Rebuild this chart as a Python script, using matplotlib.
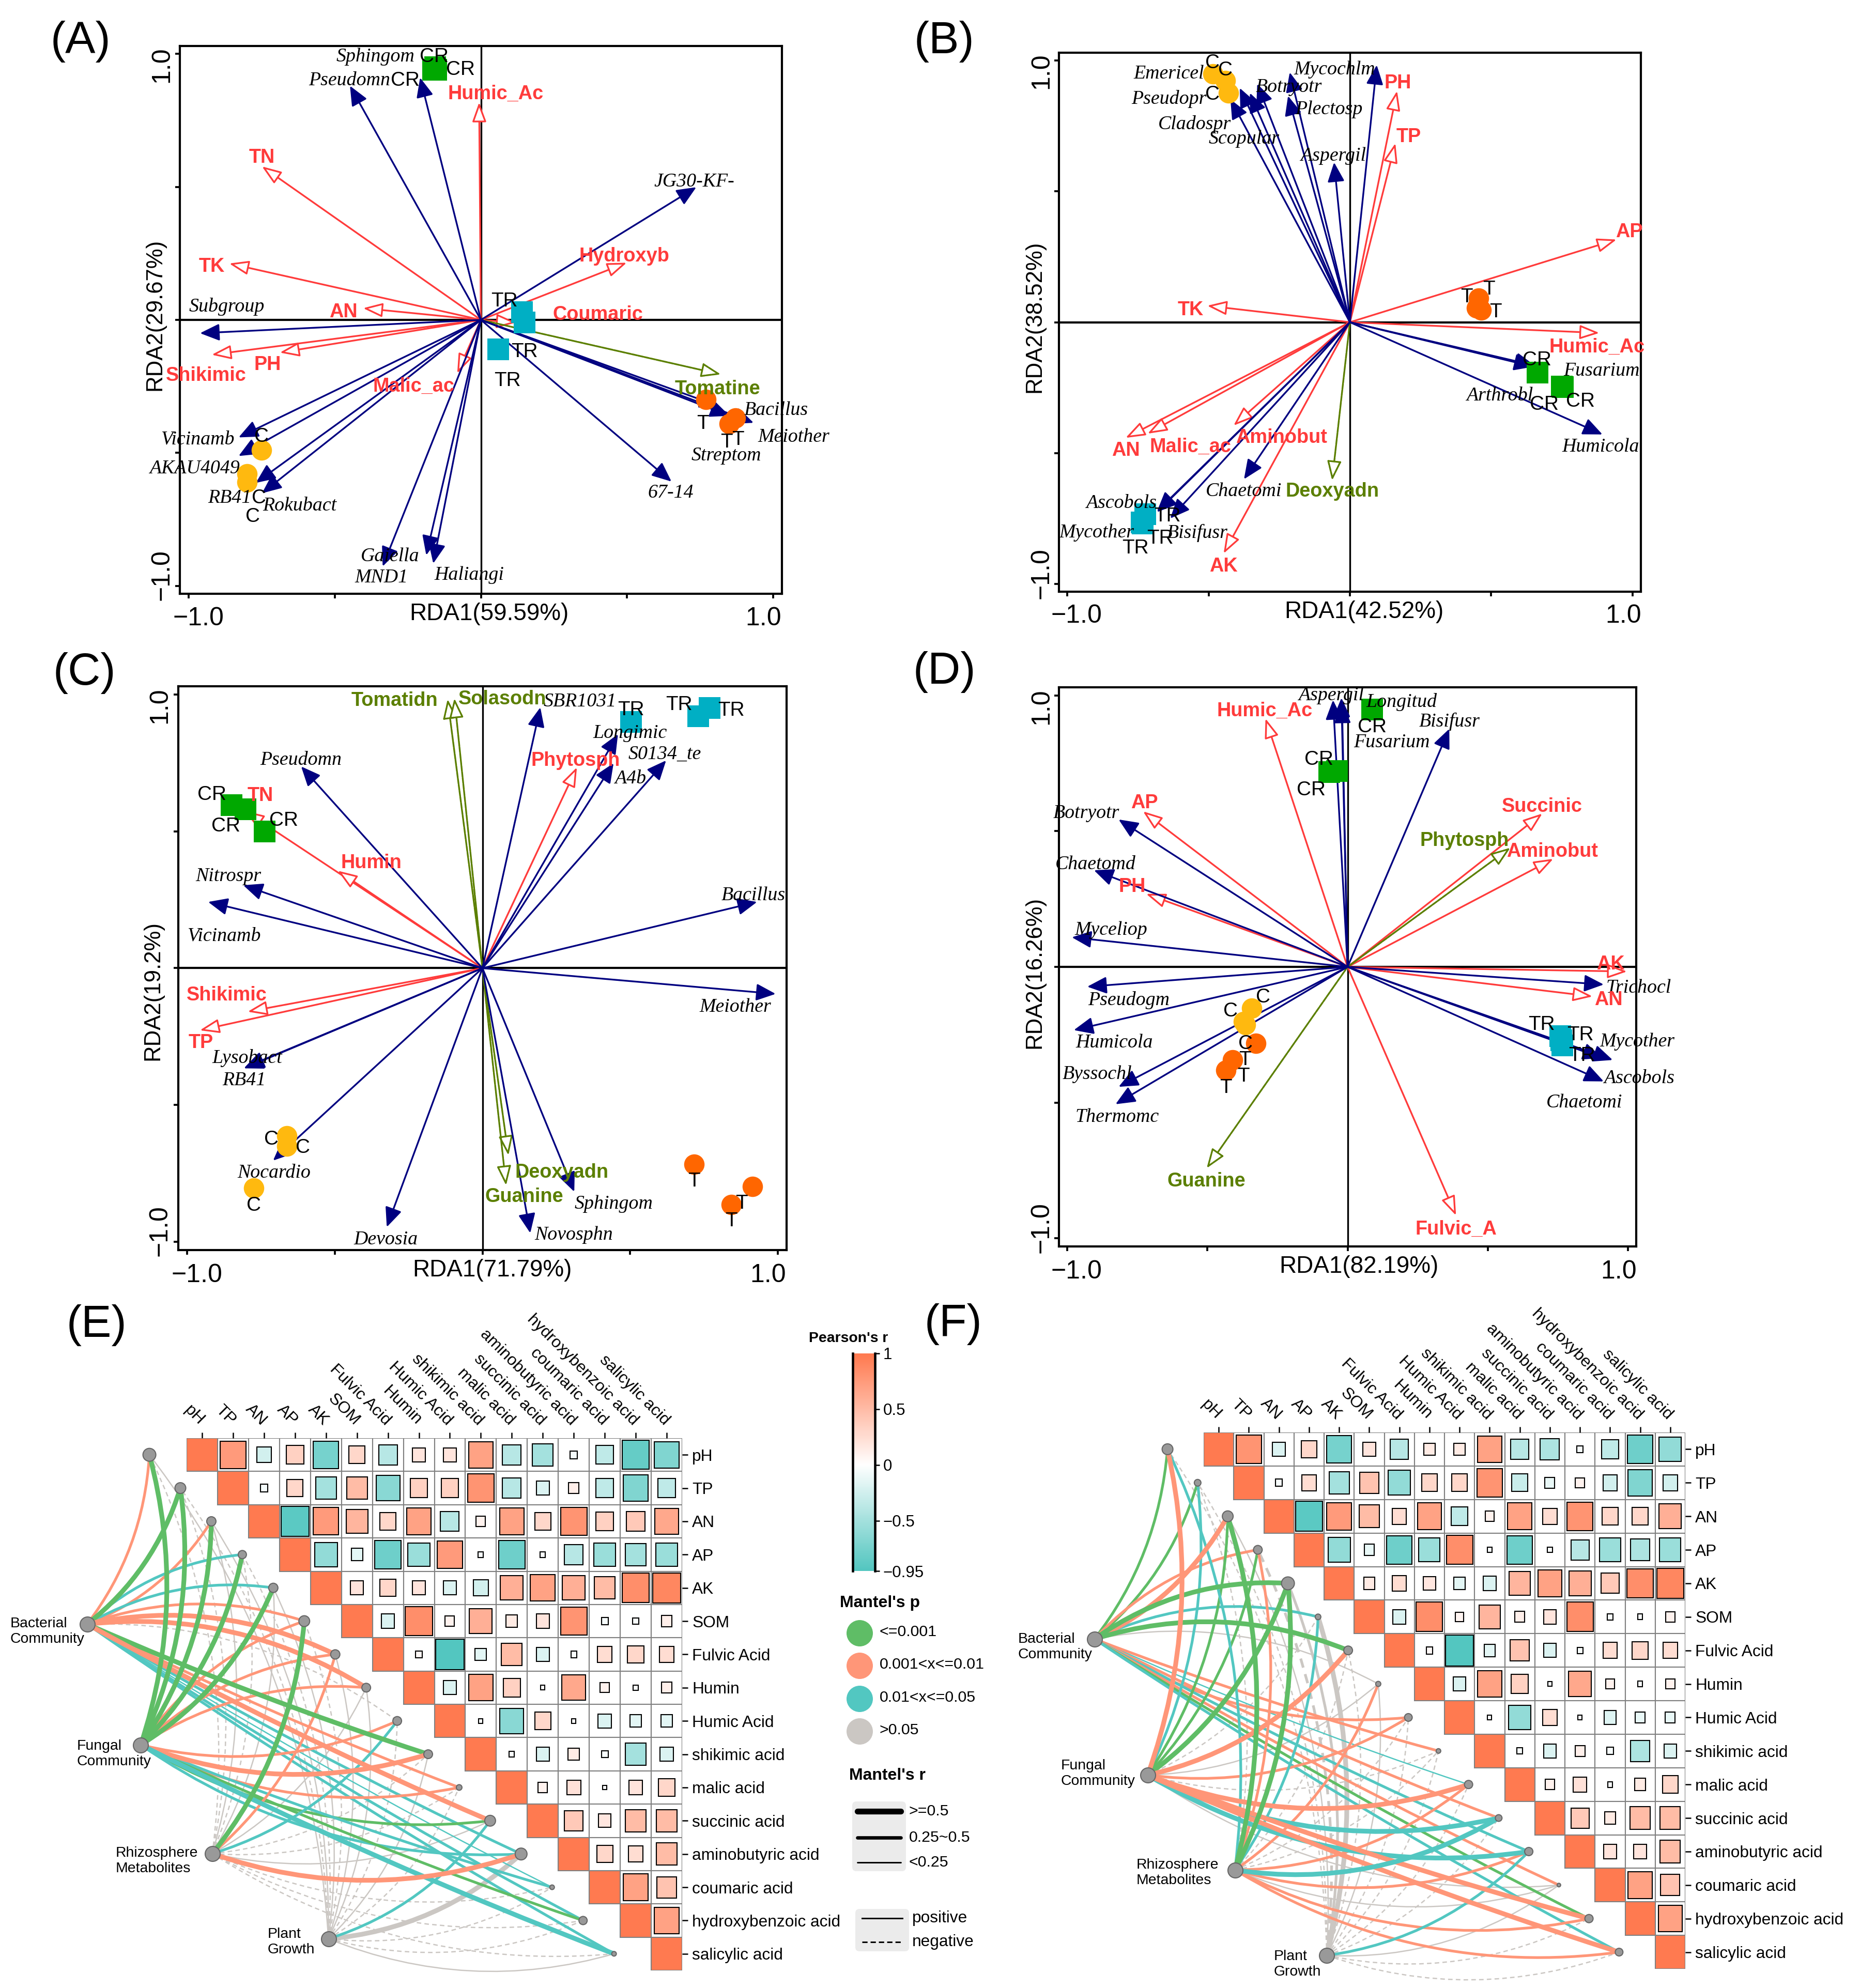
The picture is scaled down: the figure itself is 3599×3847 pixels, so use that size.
import numpy as np
import matplotlib
matplotlib.use("Agg")
import matplotlib.pyplot as plt
from matplotlib.colors import LinearSegmentedColormap, TwoSlopeNorm
from matplotlib.patches import FancyArrowPatch, FancyBboxPatch, PathPatch, Rectangle
from matplotlib.path import Path

plt.rcParams['font.family'] = ['Liberation Sans', 'DejaVu Sans']

W, H = 3599, 3847

# ---- panel A ----
a_spp_names = ["Sphingom", "Pseudomn", "JG30-KF-", "Subgroup", "Vicinamb", "AKAU4049", "RB41", "Rokubact",
               "Gaiella", "MND1", "Haliangi", "67-14", "Bacillus", "Meiother", "Streptom"]
a_spp_tips = [(-.208, .911), (-.448, .880), (.737, .499), (-.961, -.05), (-.829, -.442), (-.829, -.512),
              (-.770, -.613), (-.749, -.652), (-.336, -.927), (-.187, -.885), (-.163, -.916), (.652, -.608),
              (.815, -.325), (.933, -.387), (.851, -.361)]
a_spp_labs = [(-.36, .99), (-.45, .90), (.73, .52), (-.87, .05), (-.97, -.45), (-.98, -.56), (-.86, -.67),
              (-.62, -.70), (-.31, -.89), (-.34, -.97), (-.04, -.96), (.65, -.65), (1.01, -.34), (1.07, -.44),
              (.84, -.51)]
a_env_names = ["Humic_Ac", "TN", "TK", "Hydroxyb", "AN", "Shikimic", "PH", "Malic_ac", "Coumaric"]
a_env_tips = [(-.006, .818), (-.749, .577), (-.861, .212), (.499, .215), (-.403, .044), (-.921, -.131),
              (-.688, -.123), (-.081, -.201), (.12, -.01)]
a_env_labs = [(.05, .85), (-.75, .61), (-.92, .20), (.49, .24), (-.47, .03), (-.94, -.21), (-.73, -.17),
              (-.23, -.25), (.40, .02)]
a_met_names = ["Tomatine"]
a_met_tips = [(.821, -.205)]
a_met_labs = [(.81, -.26)]
a_cr = [(-.157, .95), (-.163, .94), (-.153, .94)]
a_tr = [(.14, .03), (.15, -.01), (.06, -.11)]
a_c = [(-.75, -.49), (-.80, -.58), (-.80, -.61)]
a_t = [(.77, -.30), (.87, -.37), (.85, -.39)]
a_cr_labs = [(-.16, .99), (-.07, .94), (-.26, .90)]
a_tr_labs = [(.08, .07), (.15, -.12), (.09, -.23)]
a_c_labs = [(-.75, -.44), (-.76, -.67), (-.78, -.74)]
a_t_labs = [(.76, -.39), (.88, -.45), (.84, -.46)]

# ---- panel B ----
b_spp_names = ["Pseudopr", "Emericel", "Cladospr", "Scopular", "Botryotr", "Plectosp", "Aspergil", "Mycochlm",
               "Arthrobl", "Fusarium", "Humicola", "Ascobols", "Mycother", "Bisifusr", "Chaetomi"]
b_spp_tips = [(-.423, .852), (-.390, .895), (-.354, .876), (-.328, .911), (-.213, .955), (-.219, .865),
              (-.056, .611), (.095, .983), (.655, -.166), (.65, -.17), (.894, -.429), (-.683, -.726),
              (-.683, -.723), (-.636, -.75), (-.375, -.60)]
b_spp_labs = [(-.64, .854), (-.64, .95), (-.55, .756), (-.375, .70), (-.217, .898), (-.074, .813), (-.059, .636),
              (-.054, .966), (.53, -.28), (.89, -.186), (.887, -.477), (-.809, -.691), (-.896, -.805),
              (-.54, -.805), (-.375, -.647)]
b_env_names = ["TK", "PH", "TP", "AP", "Humic_Ac", "AN", "Malic_ac", "Aminobut", "AK"]
b_env_tips = [(-.505, .063), (.167, .884), (.161, .684), (.944, .316), (.883, -.041), (-.794, -.442),
              (-.716, -.426), (-.412, -.395), (-.447, -.884)]
b_env_labs = [(-.564, .047), (.169, .914), (.208, .709), (.989, .344), (.874, -.095), (-.794, -.491),
              (-.564, -.477), (-.243, -.442), (-.447, -.933)]
b_met_names = ["Deoxyadn"]
b_met_tips = [(-.063, -.605)]
b_met_labs = [(-.063, -.647)]
b_cr = [(.664, -.193), (.753, -.248), (.75, -.245)]
b_tr = [(-.725, -.734), (-.738, -.766), (-.733, -.769)]
b_c = [(-.484, .95), (-.44, .923), (-.43, .876)]
b_t = [(.456, .092), (.449, .055), (.464, .047)]
b_cr_labs = [(.662, -.145), (.688, -.316), (.816, -.303)]
b_tr_labs = [(-.646, -.742), (-.672, -.827), (-.759, -.865)]
b_c_labs = [(-.486, .991), (-.44, .963), (-.486, .871)]
b_t_labs = [(.492, .126), (.414, .096), (.516, .039)]

# ---- panel C ----
c_spp_names = ["Pseudomn", "SBR1031", "Longimic", "A4b", "S0134_te", "Nitrospr", "Vicinamb", "Bacillus",
               "Meiother", "Lysobact", "RB41", "Nocardio", "Devosia", "Sphingom", "Novosphn"]
c_spp_tips = [(-.614, .737), (.196, .953), (.459, .855), (.444, .749), (.622, .759), (-.81, .303), (-.929, .242),
              (.93, .242), (.993, -.094), (-.805, -.363), (-.808, -.366), (-.709, -.703), (-.324, -.946),
              (.311, -.817), (.162, -.968)]
c_spp_labs = [(-.614, .761), (.33, .973), (.50, .858), (.50, .693), (.618, .782), (-.86, .336), (-.875, .118),
              (.917, .265), (.856, -.142), (-.797, -.328), (-.808, -.411), (-.705, -.749), (-.328, -.992),
              (.444, -.862), (.309, -.974)]
c_env_names = ["Phytosph", "TN", "Humin", "Shikimic", "TP"]
c_env_tips = [(.32, .734), (-.805, .575), (-.49, .356), (-.795, -.159), (-.957, -.227)]
c_env_labs = [(.315, .759), (-.753, .629), (-.376, .384), (-.866, -.10), (-.953, -.272)]
c_met_names = ["Tomatidn", "Solasodn", "Deoxyadn", "Guanine"]
c_met_tips = [(-.118, .983), (-.095, .986), (.088, -.684), (.08, -.794)]
c_met_labs = [(-.297, .977), (.067, .982), (.269, -.746), (.141, -.835)]
c_cr = [(-.85, .595), (-.803, .581), (-.738, .499)]
c_tr = [(.503, .90), (.73, .921), (.77, .95)]
c_c = [(-.663, -.613), (-.663, -.651), (-.774, -.803)]
c_t = [(.717, -.716), (.915, -.797), (.843, -.864)]
c_cr_labs = [(-.917, .634), (-.869, .519), (-.673, .54)]
c_tr_labs = [(.503, .943), (.665, .962), (.843, .941)]
c_c_labs = [(-.715, -.626), (-.608, -.657), (-.774, -.867)]
c_t_labs = [(.717, -.778), (.877, -.861), (.843, -.924)]

# ---- panel D ----
d_spp_names = ["Aspergil", "Longitud", "Fusarium", "Bisifusr", "Botryotr", "Chaetomd", "Myceliop", "Pseudogm",
               "Humicola", "Byssochl", "Thermomc", "Trichocl", "Mycother", "Ascobols", "Chaetomi"]
d_spp_tips = [(-.052, .983), (-.022, .991), (-.02, .97), (.363, .877), (-.817, .543), (-.905, .356), (-.984, .109),
              (-.929, -.073), (-.977, -.233), (-.817, -.442), (-.828, -.506), (.914, -.065), (.946, -.343),
              (.914, -.422), (.909, -.336)]
d_spp_labs = [(-.059, 1.0), (.192, .976), (.157, .827), (.363, .904), (-.933, .565), (-.90, .378), (-.844, .135),
              (-.78, -.123), (-.833, -.28), (-.894, -.395), (-.822, -.553), (1.038, -.078), (1.034, -.275),
              (1.04, -.41), (.844, -.50)]
d_env_names = ["Humic_Ac", "AP", "PH", "Succinic", "Aminobut", "AK", "AN", "Fulvic_A"]
d_env_tips = [(-.293, .915), (-.73, .573), (-.719, .269), (.695, .565), (.734, .398), (.997, -.017), (.874, -.109),
              (.387, -.916)]
d_env_labs = [(-.295, .942), (-.726, .603), (-.769, .296), (.695, .591), (.73, .424), (.938, .009), (.931, -.122),
              (.387, -.967)]
d_met_names = ["Phytosph", "Guanine"]
d_met_tips = [(.581, .439), (-.503, -.742)]
d_met_labs = [(.417, .465), (-.503, -.79)]
d_cr = [(.087, .948), (-.066, .717), (-.037, .722)]
d_tr = [(.758, -.255), (.767, -.29), (.763, -.27)]
d_c = [(-.343, -.153), (-.372, -.202), (-.365, -.214)]
d_t = [(-.328, -.281), (-.411, -.342), (-.435, -.38)]
d_cr_labs = [(.087, .884), (-.103, .763), (-.131, .652)]
d_tr_labs = [(.693, -.214), (.831, -.251), (.837, -.328)]
d_c_labs = [(-.302, -.112), (-.417, -.163), (-.365, -.283)]
d_t_labs = [(-.367, -.343), (-.372, -.403), (-.435, -.445)]

# ---- correlograms ----
env_vars = ["pH", "TP", "AN", "AP", "AK", "SOM", "Fulvic Acid", "Humin", "Humic Acid", "shikimic acid",
            "malic acid", "succinic acid", "aminobutyric acid", "coumaric acid", "hydroxybenzoic acid",
            "salicylic acid"]

e_r = [
    [.75, -.25, .35, -.75, .3, -.4, .2, .2, .7, -.4, -.5, -.06, -.35, -.85, -.7],
    [-.06, .3, -.5, .5, -.65, .35, .35, .8, -.4, -.2, .12, -.35, -.7, -.35],
    [-.9, .75, .55, .3, .7, -.4, .1, .7, .3, .8, .35, .4, .65],
    [-.6, -.15, -.8, -.55, .75, -.03, -.8, -.03, -.4, -.55, -.5, -.55],
    [.2, .3, .2, -.2, -.25, .6, .7, .6, .5, .85, .9],
    [-.2, .85, .1, .6, .15, .2, .8, -.05, -.04, .12],
    [.05, -.95, -.15, .5, -.2, -.04, .25, .3, .25],
    [-.2, .7, .35, -.02, .65, .1, -.03, .12],
    [-.02, -.65, .3, -.02, -.2, -.15, -.15],
    [-.03, -.2, .15, -.05, -.5, -.2],
    [.1, .22, -.02, .2, .3],
    [.4, .18, .5, .5],
    [.3, .25, .5],
    [.7, .45],
    [.7],
]
f_r = [
    [.8, -.2, .3, -.75, .2, -.4, .15, .15, .7, -.4, -.45, -.05, -.35, -.8, -.6],
    [-.05, .25, -.5, .45, -.6, .3, .3, .8, -.3, -.12, .1, -.25, -.7, -.25],
    [-.9, .75, .5, .25, .7, -.35, .1, .7, .25, .8, .3, .3, .6],
    [-.6, -.12, -.8, -.55, .85, -.03, -.8, -.03, -.4, -.55, -.45, -.55],
    [.15, .25, .18, -.15, -.2, .55, .7, .6, .4, .85, .9],
    [-.2, .85, .08, .55, .12, .2, .85, -.04, -.03, .1],
    [.05, -.95, -.15, .45, -.2, -.04, .25, .3, .25],
    [-.2, .7, .35, -.02, .65, .1, -.03, .1],
    [-.02, -.6, .25, -.02, -.18, -.12, -.12],
    [-.04, -.2, .12, -.05, -.45, -.2],
    [.1, .22, -.03, .15, .3],
    [.4, .15, .5, .5],
    [.2, .2, .5],
    [.7, .45],
    [.7],
]

hub_names = ["Bacterial\nCommunity", "Fungal\nCommunity", "Rhizosphere\nMetabolites", "Plant\nGrowth"]

# Mantel classes per hub: p 0 <=.001, 1 <=.01, 2 <=.05, 3 >.05 ; r 0 <.25, 1 .25-.5, 2 >=.5
e_bact_p = [1, 0, 1, 2, 2, 1, 1, 1, 3, 0, 1, 1, 2, 2, 2, 2]
e_bact_r = [1, 2, 1, 1, 1, 1, 2, 2, 0, 2, 1, 2, 1, 0, 1, 1]
e_bact_sign = [1, 1, 1, 1, 1, 1, 1, 1, -1, 1, 1, 1, 1, 1, 1, 1]
e_fung_p = [0, 0, 0, 0, 0, 1, 1, 1, 1, 1, 1, 0, 2, 2, 0, 2]
e_fung_r = [2, 2, 2, 2, 2, 1, 1, 1, 1, 2, 1, 1, 1, 1, 1, 2]
e_fung_sign = [1] * 16
e_rhiz_p = [3, 3, 3, 3, 3, 0, 1, 3, 2, 3, 3, 3, 1, 3, 3, 3]
e_rhiz_r = [0, 0, 0, 0, 0, 2, 1, 0, 1, 0, 0, 0, 2, 0, 0, 0]
e_rhiz_sign = [-1, -1, 1, -1, 1, 1, 1, 1, 1, -1, -1, 1, 1, -1, -1, -1]
e_plant_p = [3, 3, 3, 3, 3, 3, 3, 3, 3, 3, 3, 2, 3, 3, 3, 3]
e_plant_r = [0, 0, 0, 0, 0, 0, 0, 0, 0, 0, 0, 1, 2, 0, 0, 0]
e_plant_sign = [1, -1, 1, -1, 1, -1, 1, 1, -1, 1, -1, 1, 1, -1, -1, 1]

f_bact_p = [0, 0, 1, 1, 0, 2, 0, 3, 1, 1, 2, 1, 2, 1, 0, 2]
f_bact_r = [1, 1, 2, 1, 2, 1, 2, 0, 1, 1, 0, 1, 1, 1, 1, 1]
f_bact_sign = [1] * 16
f_fung_p = [1, 2, 0, 0, 0, 3, 1, 3, 1, 3, 1, 2, 2, 3, 1, 1]
f_fung_r = [2, 1, 1, 1, 2, 0, 2, 0, 1, 0, 2, 2, 2, 0, 2, 2]
f_fung_sign = [1, 1, 1, 1, 1, -1, 1, 1, 1, -1, 1, 1, 1, 1, 1, 1]
f_rhiz_p = [2, 3, 0, 1, 0, 2, 3, 1, 3, 3, 1, 2, 1, 3, 1, 1]
f_rhiz_r = [1, 0, 2, 1, 2, 1, 0, 1, 0, 0, 1, 2, 1, 0, 1, 1]
f_rhiz_sign = [1, -1, 1, 1, 1, 1, -1, 1, -1, -1, 1, 1, 1, 1, 1, 1]
f_plant_p = [3, 3, 3, 3, 3, 3, 3, 3, 3, 3, 3, 3, 2, 3, 3, 3]
f_plant_r = [0, 0, 0, 1, 1, 2, 0, 0, 0, 0, 0, 0, 1, 0, 0, 0]
f_plant_sign = [-1, -1, 1, -1, 1, 1, -1, 1, -1, -1, -1, -1, 1, 1, -1, -1]

# colourbar and legend entries
cbar_ticks = [1, .5, 0, -.5, -.95]
cbar_labels = ["1", "0.5", "0", "\u22120.5", "\u22120.95"]
mantel_p_labels = ["<=0.001", "0.001<x<=0.01", "0.01<x<=0.05", ">0.05"]
mantel_r_labels = [">=0.5", "0.25~0.5", "<0.25"]
sign_labels = ["positive", "negative"]

# styles
NAVY = "#000080"
RED = "#FF3B3B"
OLIVE = "#5B7F00"
GROUP_COL = {"CR": "#00A800", "TR": "#00AFC4", "C": "#FFB90F", "T": "#FF6600"}
P_COLS = ["#5FBD66", "#FF9678", "#52C7C1", "#CBC7C3"]
R_WIDTHS = [.6, 1.25, 2.2]
LEG_WIDTHS = [2.7, 1.6, .7]
corr_cmap = LinearSegmentedColormap.from_list("tealcoral", ["#53C6C0", "#FFFFFF", "#FF7A50"])
corr_norm = TwoSlopeNorm(vmin=-.95, vcenter=0, vmax=1)

fig = plt.figure(figsize=(W / 300, H / 300), dpi=300)


def px_axes(x0, y0, x1, y1):
    return fig.add_axes([x0 / W, 1 - y1 / H, (x1 - x0) / W, (y1 - y0) / H])


def draw_arrows(ax, tips, color, hollow=False, dashed=False):
    for tip in tips:
        style = '-|>,head_length=0.55,head_width=0.2' if hollow else '-|>,head_length=0.55,head_width=0.24'
        ax.add_patch(FancyArrowPatch((0, 0), tip, arrowstyle=style, mutation_scale=14, shrinkA=0, shrinkB=0,
                                     fc='white' if hollow else color, ec=color, lw=.8,
                                     linestyle=(0, (3, .6)) if dashed else '-', clip_on=False, zorder=3))


def draw_names(ax, names, labs, **kw):
    for name, (x, y) in zip(names, labs):
        ax.text(x, y, name, ha='center', va='center', clip_on=False, zorder=6, **kw)


def draw_rda(box, xlabel, ylabel, xlab_x, ylab_y, spp, env, met, groups, group_labs):
    ax = px_axes(*box)
    ax.set_xlim(-1.03, 1.03)
    ax.set_ylim(-1.03, 1.03)
    ax.axhline(0, color='k', lw=1, zorder=1)
    ax.axvline(0, color='k', lw=.8, zorder=1)

    draw_arrows(ax, env[1], RED, hollow=True)
    draw_arrows(ax, met[1], OLIVE, hollow=True, dashed=True)
    draw_arrows(ax, spp[1], NAVY)

    for key, pts in groups.items():
        xs, ys = zip(*pts)
        ax.scatter(xs, ys, s=105 if key in ("CR", "TR") else 90, c=GROUP_COL[key], lw=0,
                   marker='s' if key in ("CR", "TR") else 'o', zorder=4)
        for x, y in group_labs[key]:
            ax.text(x, y, key, ha='center', va='center', fontsize=9.3, color='k', zorder=6)

    draw_names(ax, spp[0], spp[2], family='Liberation Serif', style='italic', fontsize=9.1, color='k')
    draw_names(ax, env[0], env[2], fontsize=9.1, fontweight='bold', color=RED)
    draw_names(ax, met[0], met[2], fontsize=9.1, fontweight='bold', color=OLIVE)

    ax.set_xticks([-1, -.5, 0, .5, 1], [])
    ax.set_yticks([-1, -.5, 0, .5, 1], [])
    ax.tick_params(length=2.2, width=.9)
    # the +-1.0 labels sit a little inside their ticks
    for v, lab in [(-.967, "\u22121.0"), (.967, "1.0")]:
        ax.text(v, -.045, lab, transform=ax.get_xaxis_transform(), ha='center', va='center', fontsize=12, clip_on=False)
    for v, lab in [(-.96, "\u22121.0"), (.96, "1.0")]:
        ax.text(-.03, v, lab, transform=ax.get_yaxis_transform(), ha='center', va='center', rotation=90, fontsize=12,
                clip_on=False)
    ax.set_xlabel(xlabel, fontsize=11)
    ax.set_ylabel(ylabel, fontsize=10.5)
    ax.xaxis.set_label_coords(xlab_x, -.016)
    ax.yaxis.set_label_coords(-.024, ylab_y)
    for s in ax.spines.values():
        s.set_linewidth(1)
    return ax


def draw_corr(box, r, hubs, hub_labs, node_sizes, links, left_bends, flat_from, curv=.16):
    ax = px_axes(*box)
    ax.set_xlim(-.5, 15.5)
    ax.set_ylim(15.5, -.5)
    for s in ax.spines.values():
        s.set_visible(False)
    ax.patch.set_visible(False)

    # cells
    for i in range(16):
        ax.add_patch(Rectangle((i - .5, i - .5), 1, 1, fc=corr_cmap(corr_norm(1)), ec='#808080', lw=.5, zorder=2))
    for i, row in enumerate(r):
        for j, v in enumerate(row, start=i + 1):
            ax.add_patch(Rectangle((j - .5, i - .5), 1, 1, fc='white', ec='#808080', lw=.5, zorder=1))
            side = np.sqrt(abs(v)) * .95
            ax.add_patch(Rectangle((j - side / 2, i - side / 2), side, side, fc=corr_cmap(corr_norm(v)),
                                   ec='k', lw=.5, zorder=3))

    node_x = np.arange(16) - 1.7
    node_y = np.arange(16)

    # links, grey ones first so the coloured ones stay on top
    segs = []
    for h, (p_cls, r_cls, sign) in enumerate(links):
        for n in range(16):
            segs.append((p_cls[n] != 3, r_cls[n], h, n, p_cls[n], sign[n]))
    segs.sort(key=lambda t: t[:2])
    for _, rc, h, n, pc, sg in segs:
        x0, y0 = hubs[h]
        x1, y1 = node_x[n], node_y[n]
        dx, dy = x1 - x0, y1 - y0
        lo, hi = left_bends[h]
        c = -curv if lo <= n <= hi else curv
        if n >= flat_from[h]:
            c *= .15   # the long links to the lower right run almost straight
        cx, cy = (x0 + x1) / 2 - c * dy, (y0 + y1) / 2 + c * dx
        path = Path([(x0, y0), (cx, cy), (x1, y1)], [Path.MOVETO, Path.CURVE3, Path.CURVE3])
        ax.add_patch(PathPatch(path, fc='none', ec=P_COLS[pc], lw=R_WIDTHS[rc], clip_on=False, zorder=4,
                               linestyle='-' if sg > 0 else (0, (3.5, 2.5))))

    ax.scatter(node_x, node_y, s=[(d * .24) ** 2 for d in node_sizes], c='#999999', edgecolors='#666666', lw=.5,
               clip_on=False, zorder=5)
    hx, hy = zip(*hubs)
    ax.scatter(hx, hy, s=(29 * .24) ** 2, c='#999999', edgecolors='#666666', lw=.5, clip_on=False, zorder=5)
    for name, (x, y) in zip(hub_names, hub_labs):
        ax.text(x, y, name, ha='left', va='center', fontsize=6.8, clip_on=False)

    ax.xaxis.tick_top()
    ax.yaxis.tick_right()
    ax.set_xticks(range(16), env_vars, rotation=-45, ha='right', va='center', rotation_mode='anchor', fontsize=7.7)
    ax.set_yticks(range(16), env_vars, fontsize=7.6)
    ax.tick_params(axis='x', length=2.6, width=.6, pad=4.5)
    ax.tick_params(axis='y', length=2.6, width=.6, pad=2)
    return ax


draw_rda((348, 89, 1513, 1149), "RDA1(59.59%)", "RDA2(29.67%)", .514, .51,
         (a_spp_names, a_spp_tips, a_spp_labs), (a_env_names, a_env_tips, a_env_labs),
         (a_met_names, a_met_tips, a_met_labs),
         {"CR": a_cr, "TR": a_tr, "C": a_c, "T": a_t},
         {"CR": a_cr_labs, "TR": a_tr_labs, "C": a_c_labs, "T": a_t_labs})
draw_rda((2049, 102, 3175, 1145), "RDA1(42.52%)", "RDA2(38.52%)", .524, .51,
         (b_spp_names, b_spp_tips, b_spp_labs), (b_env_names, b_env_tips, b_env_labs),
         (b_met_names, b_met_tips, b_met_labs),
         {"CR": b_cr, "TR": b_tr, "C": b_c, "T": b_t},
         {"CR": b_cr_labs, "TR": b_tr_labs, "C": b_c_labs, "T": b_t_labs})
draw_rda((345, 1328, 1522, 2419), "RDA1(71.79%)", "RDA2(19.2%)", .516, .46,
         (c_spp_names, c_spp_tips, c_spp_labs), (c_env_names, c_env_tips, c_env_labs),
         (c_met_names, c_met_tips, c_met_labs),
         {"CR": c_cr, "TR": c_tr, "C": c_c, "T": c_t},
         {"CR": c_cr_labs, "TR": c_tr_labs, "C": c_c_labs, "T": c_t_labs})
draw_rda((2049, 1330, 3166, 2412), "RDA1(82.19%)", "RDA2(16.26%)", .52, .49,
         (d_spp_names, d_spp_tips, d_spp_labs), (d_env_names, d_env_tips, d_env_labs),
         (d_met_names, d_met_tips, d_met_labs),
         {"CR": d_cr, "TR": d_tr, "C": d_c, "T": d_t},
         {"CR": d_cr_labs, "TR": d_tr_labs, "C": d_c_labs, "T": d_t_labs})

draw_corr((361, 2783, 1320, 3813), e_r,
          [(-3.71, 5.09), (-1.98, 8.72), (.33, 11.99), (4.08, 14.55)],
          [(-6.2, 5.31), (-4.04, 8.99), (-2.79, 12.2), (2.12, 14.64)],
          [25, 21, 18, 16, 18, 21, 18, 17, 17, 17, 11, 21, 23, 9, 16, 9],
          [(e_bact_p, e_bact_r, e_bact_sign), (e_fung_p, e_fung_r, e_fung_sign),
           (e_rhiz_p, e_rhiz_r, e_rhiz_sign), (e_plant_p, e_plant_r, e_plant_sign)],
          [(3, 8), (5, 7), (99, 99), (99, 99)], [9, 13, 99, 99])
draw_corr((2329, 2772, 3261, 3810), f_r,
          [(-4.13, 5.66), (-2.36, 9.72), (.54, 12.55), (3.59, 15.1)],
          [(-6.67, 5.9), (-5.24, 9.68), (-2.74, 12.64), (1.83, 15.36)],
          [21, 13, 21, 17, 25, 11, 17, 10, 15, 9, 16, 13, 16, 7, 16, 15],
          [(f_bact_p, f_bact_r, f_bact_sign), (f_fung_p, f_fung_r, f_fung_sign),
           (f_rhiz_p, f_rhiz_r, f_rhiz_sign), (f_plant_p, f_plant_r, f_plant_sign)],
          [(3, 7), (99, 99), (99, 99), (99, 99)], [9, 14, 99, 99])

# colourbar
cax = px_axes(1650, 2619, 1693, 3040)
cax.imshow(np.linspace(1, -.95, 256)[:, None], cmap=corr_cmap, norm=corr_norm, aspect='auto', extent=[0, 1, -.95, 1])
cax.set_xticks([])
cax.yaxis.tick_right()
cax.set_yticks(cbar_ticks, cbar_labels, fontsize=7.5)
cax.tick_params(length=2.2, width=.6, pad=1.5)
cax.spines['top'].set_visible(False)
cax.spines['bottom'].set_visible(False)
cax.spines['left'].set_linewidth(1.1)
cax.spines['right'].set_linewidth(1.1)

# everything that has no data scale sits on a pixel overlay
ov = fig.add_axes([0, 0, 1, 1], zorder=-1)
ov.set_xlim(0, W)
ov.set_ylim(H, 0)
ov.axis('off')

for letter, x, y in [("(A)", 156, 80), ("(B)", 1827, 80), ("(C)", 163, 1302), ("(D)", 1827, 1300),
                     ("(E)", 187, 2564), ("(F)", 1844, 2562)]:
    ov.text(x, y, letter, ha='center', va='center', fontsize=21)

ov.text(1642, 2590, "Pearson's r", ha='center', va='center', fontsize=6.8, fontweight='bold')
ov.text(1703, 3102, "Mantel's p", ha='center', va='center', fontsize=7.7, fontweight='bold')
ov.text(1717, 3436, "Mantel's r", ha='center', va='center', fontsize=7.7, fontweight='bold')

for k, lab in enumerate(mantel_p_labels):
    y = 3160 + k * 63.4
    ov.scatter([1663], [y], s=(51 * .24) ** 2, c=P_COLS[k], lw=0)
    ov.text(1702, y - 2, lab, ha='left', va='center', fontsize=7.3)

ov.add_patch(FancyBboxPatch((1649, 3486), 104, 135, boxstyle='round,pad=0,rounding_size=8', fc='#EBEBEB', ec='none'))
for k, lab in enumerate(mantel_r_labels):
    y = [3505, 3556, 3604][k]
    ov.plot([1659, 1743], [y, y], color='k', lw=LEG_WIDTHS[k], solid_capstyle='round')
    ov.text(1759, y, lab, ha='left', va='center', fontsize=7.3)

ov.add_patch(FancyBboxPatch((1655, 3694), 104, 82, boxstyle='round,pad=0,rounding_size=8', fc='#EBEBEB', ec='none'))
for k, lab in enumerate(sign_labels):
    y = 3712 + k * 46
    ov.plot([1668, 1746], [y, y], color='k', lw=.7, linestyle='-' if k == 0 else (0, (3.5, 2)))
    ov.text(1765, y, lab, ha='left', va='center', fontsize=7.6)

fig.savefig("out.png", dpi=300)
